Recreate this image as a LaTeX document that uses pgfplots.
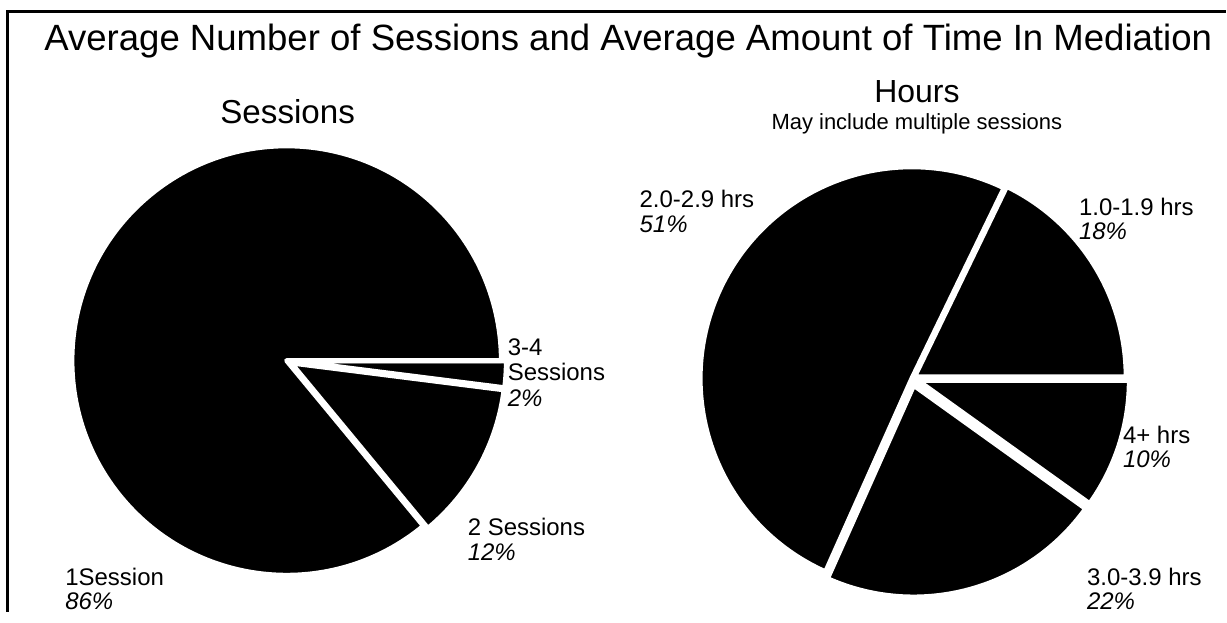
\documentclass[border=0pt]{standalone}
\usepackage{pgfplots}
\pgfplotsset{compat=1.18}
\usepackage{pgfplotstable}
\usepackage{fontspec}
\setmainfont{Liberation Sans}

% Sessions pie (clockwise from 0 deg): 3-4 Sessions, 2 Sessions, 1 Session
\pgfplotstableread{
pct explode
2 5
12 5
86 0
}\sessions
% Hours pie (clockwise from 0 deg): 4+, 3.0-3.9, 2.0-2.9, 1.0-1.9
\pgfplotstableread{
pct explode
10 6
22 7
51 0
18 3
}\hours

\newcommand\getval[4]{\pgfplotstablegetelem{#2}{#3}\of#1\xdef#4{\pgfplotsretval}}

% #1 cx, #2 cy (pixel units), #3 R, #4 start angle, #5 end angle, #6 explode, #7 style
\newcommand\pieslice[7]{%
  \pgfmathsetmacro\psmid{(#4+#5)/2}%
  \pgfmathsetmacro\pscx{#1+#6*cos(\psmid)}%
  \pgfmathsetmacro\pscy{#2-#6*sin(\psmid)}%
  \pgfmathsetmacro\psx{\pscx+#3*cos(#4)}%
  \pgfmathsetmacro\psy{\pscy-#3*sin(#4)}%
  \pgfmathsetmacro\psr{#3/2}%
  \edef\pstemp{\noexpand\path[#7] (axis cs:\pscx,\pscy) -- (axis cs:\psx,\psy) arc[start angle=#4, end angle=#5, radius=\psr pt] -- cycle;}%
  \pstemp}

\begin{document}
\begin{tikzpicture}
% read values
\getval\sessions{0}{pct}\sA \getval\sessions{1}{pct}\sB \getval\sessions{2}{pct}\sC
\getval\sessions{0}{explode}\seA \getval\sessions{1}{explode}\seB \getval\sessions{2}{explode}\seC
\getval\hours{0}{pct}\hA \getval\hours{1}{pct}\hB \getval\hours{2}{pct}\hC \getval\hours{3}{pct}\hD
\getval\hours{0}{explode}\heA \getval\hours{1}{explode}\heB \getval\hours{2}{explode}\heC \getval\hours{3}{explode}\heD
% cumulative angles
\pgfmathsetmacro\sT{\sA+\sB+\sC}
\pgfmathsetmacro\La{0}
\pgfmathsetmacro\Lb{\La-(\sA/\sT)*360}
\pgfmathsetmacro\Lc{\Lb-(\sB/\sT)*360}
\pgfmathsetmacro\Ld{\Lc-(\sC/\sT)*360}
\pgfmathsetmacro\hT{\hA+\hB+\hC+\hD}
\pgfmathsetmacro\Ra{0}
\pgfmathsetmacro\Rb{\Ra-(\hA/\hT)*360}
\pgfmathsetmacro\Rc{\Rb-(\hB/\hT)*360}
\pgfmathsetmacro\Rd{\Rc-(\hC/\hT)*360}
\pgfmathsetmacro\Re{\Rd-(\hD/\hT)*360}
\begin{axis}[
  scale only axis, width=613.5pt, height=306.5pt,
  xmin=0, xmax=1227, ymin=0, ymax=613, y dir=reverse,
  axis lines=none, clip=false,
]
\path (axis cs:0,0) rectangle (axis cs:1227,613);
% frame (top and left)
\draw[line width=1.5pt] (axis cs:1227,12) -- (axis cs:8,12) -- (axis cs:8,613);

\tikzset{sep/.style={draw=white,line width=2.5pt,line join=round}}
% left pie fills
\pieslice{287}{361}{215}{\La}{\Lb}{\seA}{fill=black}
\pieslice{287}{361}{215}{\Lb}{\Lc}{\seB}{fill=black}
\pieslice{287}{361}{215}{\Lc}{\Ld}{\seC}{fill=black}
% right pie fills
\pieslice{913}{379}{212}{\Ra}{\Rb}{\heA}{fill=black}
\pieslice{913}{379}{212}{\Rb}{\Rc}{\heB}{fill=black}
\pieslice{913}{379}{212}{\Rc}{\Rd}{\heC}{fill=black}
\pieslice{913}{379}{212}{\Rd}{\Re}{\heD}{fill=black}
% white separators
\pieslice{287}{361}{215}{\La}{\Lb}{\seA}{sep}
\pieslice{287}{361}{215}{\Lb}{\Lc}{\seB}{sep}
\pieslice{287}{361}{215}{\Lc}{\Ld}{\seC}{sep}
\pieslice{913}{379}{212}{\Ra}{\Rb}{\heA}{sep}
\pieslice{913}{379}{212}{\Rb}{\Rc}{\heB}{sep}
\pieslice{913}{379}{212}{\Rc}{\Rd}{\heC}{sep}
\pieslice{913}{379}{212}{\Rd}{\Re}{\heD}{sep}

% titles
\node[anchor=base, inner sep=0pt, font=\fontsize{18.3}{22}\selectfont] at (axis cs:629,51) {Average Number of Sessions and Average Amount of Time In Mediation};
\node[anchor=base, inner sep=0pt, font=\fontsize{16.6}{19}\selectfont] at (axis cs:288,124) {Sessions};
\node[anchor=base, inner sep=0pt, font=\fontsize{16}{19}\selectfont] at (axis cs:918,103) {Hours};
\node[anchor=base, inner sep=0pt, font=\fontsize{11}{13}\selectfont] at (axis cs:918,130) {May include multiple sessions};

% slice labels
\tikzset{lbl/.style={anchor=base west, inner sep=0pt, font=\fontsize{12}{14}\selectfont}}
\node[lbl] at (axis cs:508,356) {3-4};
\node[lbl] at (axis cs:508,381) {Sessions};
\node[lbl] at (axis cs:508,407) {\itshape 2\%};
\node[lbl] at (axis cs:468,536) {2 Sessions};
\node[lbl] at (axis cs:468,561) {\itshape 12\%};
\node[lbl] at (axis cs:65,586) {1Session};
\node[lbl] at (axis cs:65,610) {\itshape 86\%};
\node[lbl] at (axis cs:640,208) {2.0-2.9 hrs};
\node[lbl] at (axis cs:640,233) {\itshape 51\%};
\node[lbl] at (axis cs:1080,216) {1.0-1.9 hrs};
\node[lbl] at (axis cs:1080,240) {\itshape 18\%};
\node[lbl] at (axis cs:1124,444) {4+ hrs};
\node[lbl] at (axis cs:1124,468) {\itshape 10\%};
\node[lbl] at (axis cs:1088,586) {3.0-3.9 hrs};
\node[lbl] at (axis cs:1088,610) {\itshape 22\%};
\end{axis}
\end{tikzpicture}
\end{document}
